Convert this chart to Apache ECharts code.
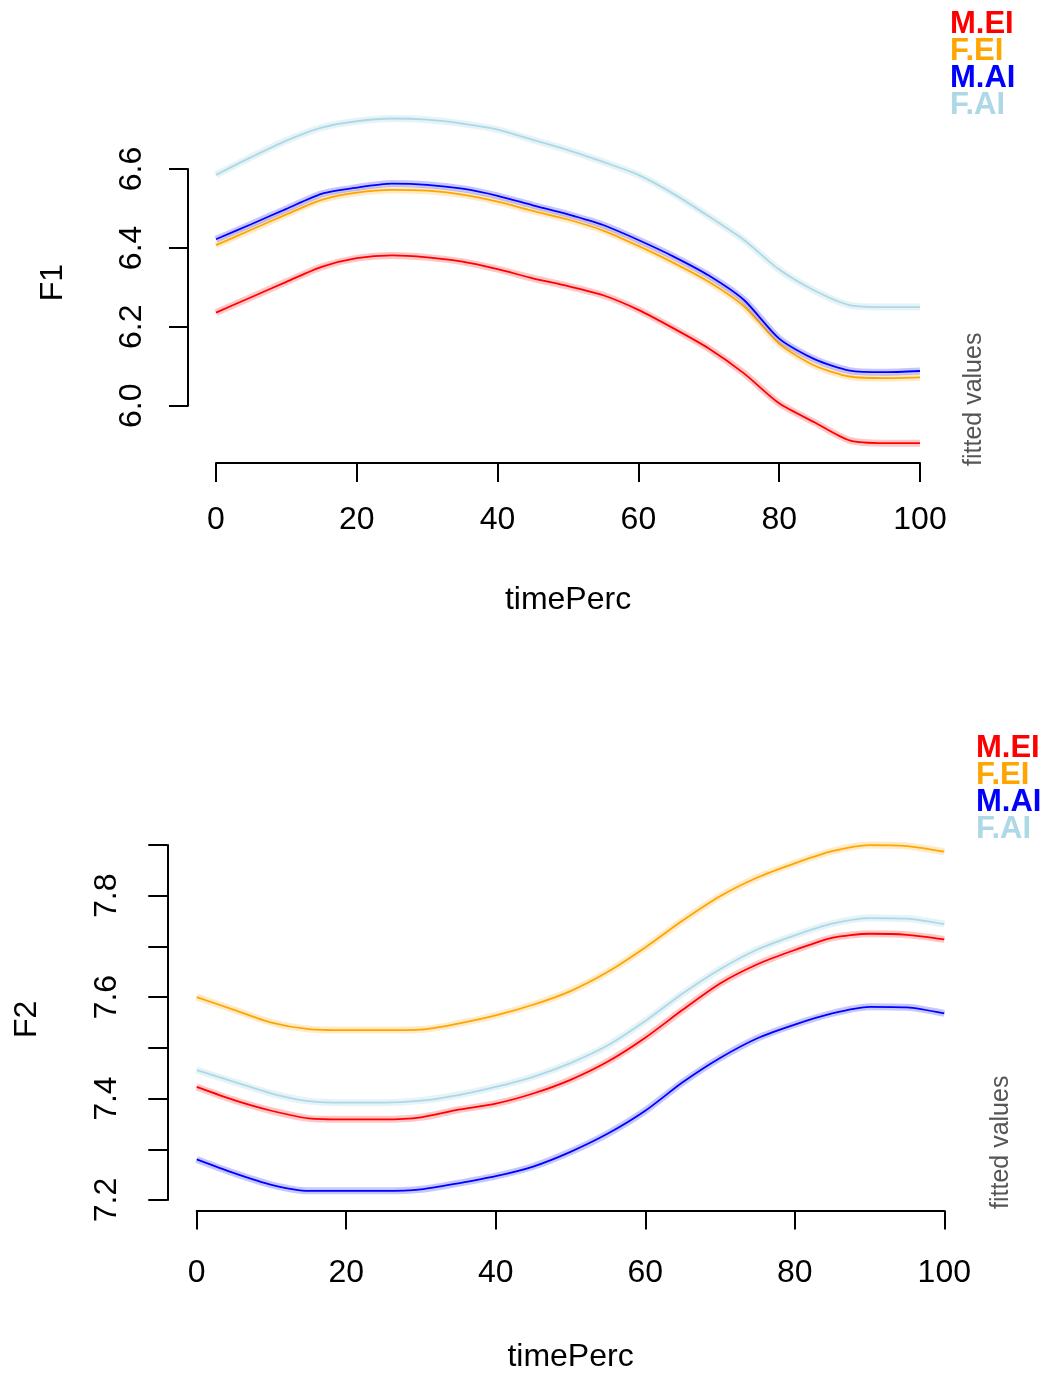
<!DOCTYPE html>
<html><head><meta charset="utf-8">
<script src="https://cdn.jsdelivr.net/npm/echarts@6/dist/echarts.min.js"></script>
<style>html,body{margin:0;padding:0;background:#fff;}#chart{width:1043px;height:1374px;}</style>
</head><body><div id="chart"></div>
<script>
// ---------- data ----------
const timePerc = [0,5,10,15,20,25,30,35,40,45,50,55,60,65,70,75,80,85,90,95,100];
const groups = ['M.EI','F.EI','M.AI','F.AI'];
const groupColors = ['#ff0000','#ffa500','#0000ff','#add8e6'];
const xTicks = [0,20,40,60,80,100];
const f1Ticks = [6.0,6.2,6.4,6.6];
const f2Ticks = [7.2,7.3,7.4,7.5,7.6,7.7,7.8,7.9];

// F1 fitted values
const f1_MEI = [6.236,6.275,6.314,6.352,6.374,6.381,6.376,6.365,6.346,6.323,6.303,6.280,6.243,6.196,6.145,6.082,6.006,5.958,5.912,5.905,5.905];
const f1_FEI = [6.407,6.446,6.485,6.522,6.540,6.547,6.545,6.535,6.517,6.494,6.472,6.444,6.405,6.362,6.314,6.252,6.157,6.102,6.074,6.070,6.072];
const f1_MAI = [6.422,6.460,6.499,6.537,6.553,6.563,6.560,6.550,6.532,6.508,6.485,6.458,6.420,6.378,6.330,6.268,6.170,6.118,6.089,6.085,6.088];
const f1_FAI = [6.585,6.630,6.672,6.705,6.721,6.728,6.725,6.715,6.700,6.674,6.648,6.618,6.585,6.537,6.480,6.420,6.345,6.292,6.255,6.250,6.250];

// F2 fitted values
const f2_MEI = [7.423,7.397,7.376,7.361,7.359,7.359,7.363,7.378,7.390,7.410,7.437,7.473,7.520,7.575,7.627,7.665,7.693,7.717,7.725,7.723,7.714];
const f2_FEI = [7.600,7.575,7.550,7.537,7.535,7.535,7.536,7.548,7.564,7.585,7.612,7.650,7.698,7.751,7.799,7.836,7.864,7.888,7.900,7.898,7.887];
const f2_MAI = [7.280,7.253,7.230,7.218,7.218,7.218,7.221,7.233,7.247,7.266,7.295,7.331,7.376,7.432,7.480,7.519,7.546,7.568,7.581,7.580,7.568];
const f2_FAI = [7.456,7.433,7.410,7.395,7.392,7.392,7.396,7.407,7.423,7.443,7.470,7.505,7.553,7.607,7.655,7.694,7.722,7.745,7.756,7.755,7.744];

const f1Series = [f1_MEI, f1_FEI, f1_MAI, f1_FAI];
const f2Series = [f2_MEI, f2_FEI, f2_MAI, f2_FAI];

// ---------- layout ----------
const FONT = '"Liberation Sans", Arial, sans-serif';
const panels = [
  { name:'F1', series:f1Series, ticks:f1Ticks, left:216, width:704,
    ppu:394.5, basePx:405.7, base:6.0, dataTop:102, dataBottom:463,
    yLabelMargin:40, yNameGap:147, xLabelMargin:41, xNameGap:121, axisOffset:28,
    labelEvery:1, legendTop:9, legendLeft:950, fittedX:974, fittedY:466 },
  { name:'F2', series:f2Series, ticks:f2Ticks, left:196.7, width:747.6,
    ppu:507.1, basePx:1200, base:7.2, dataTop:828, dataBottom:1210.5,
    yLabelMargin:44, yNameGap:154, xLabelMargin:47, xNameGap:131, axisOffset:29.4,
    labelEvery:2, legendTop:733, legendLeft:976, fittedX:1001, fittedY:1209 }
];

const grid = [], xAxis = [], yAxis = [], series = [], legend = [], graphic = [];
const axisLineStyle = { color:'#000', width:2 };

panels.forEach((p, pi) => {
  const tMin = p.ticks[0], tMax = p.ticks[p.ticks.length-1];
  const step = +(p.ticks[1]-p.ticks[0]).toFixed(3);
  const yMin = p.base - (p.dataBottom - p.basePx)/p.ppu;
  const yMax = p.base + (p.basePx - p.dataTop)/p.ppu;
  const axTop = p.basePx - (tMax - p.base)*p.ppu;
  const axH = (tMax - tMin)*p.ppu;

  // data grid
  const dg = grid.length;
  grid.push({ left:p.left, width:p.width, top:p.dataTop, height:p.dataBottom-p.dataTop, containLabel:false, outerBoundsMode:'none' });
  xAxis.push({ gridIndex:dg, type:'value', min:xTicks[0], max:xTicks[xTicks.length-1], interval:xTicks[1]-xTicks[0],
    axisLine:{ show:true, onZero:false, lineStyle:axisLineStyle }, axisTick:{ show:true, length:19, lineStyle:{ width:2, color:'#000' } },
    splitLine:{ show:false },
    axisLabel:{ show:true, margin:p.xLabelMargin, fontSize:32, color:'#000', fontFamily:FONT, showMinLabel:true, showMaxLabel:true },
    name:'timePerc', nameLocation:'middle', nameGap:p.xNameGap, nameTextStyle:{ fontSize:32, color:'#000', fontFamily:FONT } });
  yAxis.push({ gridIndex:dg, type:'value', min:yMin, max:yMax,
    axisLine:{ show:false, onZero:false }, axisTick:{ show:false }, axisLabel:{ show:false }, splitLine:{ show:false },
    name:p.name, nameLocation:'middle', nameGap:p.yNameGap, nameRotate:90,
    nameTextStyle:{ fontSize:32, color:'#000', fontFamily:FONT } });

  // axis-only grid (y-axis spans the tick range only)
  const ag = grid.length;
  grid.push({ left:p.left, width:p.width, top:axTop, height:axH, containLabel:false, outerBoundsMode:'none' });
  xAxis.push({ gridIndex:ag, type:'value', min:0, max:100, show:false, axisLine:{ onZero:false } });
  yAxis.push({ gridIndex:ag, type:'value', min:tMin, max:tMax, interval:step, offset:p.axisOffset,
    axisLine:{ show:true, onZero:false, lineStyle:axisLineStyle }, axisTick:{ show:true, length:19, lineStyle:{ width:2, color:'#000' } },
    splitLine:{ show:false },
    axisLabel:{ show:true, rotate:90, margin:p.yLabelMargin, fontSize:32, color:'#000', fontFamily:FONT,
      showMinLabel:true, showMaxLabel:true,
      formatter:(v)=>{ const k = Math.round((v - tMin)/step); return (k % p.labelEvery === 0) ? v.toFixed(1) : ''; } } });

  // series: confidence-band look (wide translucent line) + fitted line
  p.series.forEach((vals, gi) => {
    const data = timePerc.map((x, i) => [x, vals[i]]);
    series.push({ name:groups[gi] + ' band', type:'line', xAxisIndex:dg, yAxisIndex:dg, data,
      symbol:'none', smooth:0.25, silent:true, animation:false,
      lineStyle:{ width:7, color:groupColors[gi], opacity: gi===3 ? 0.3 : 0.22 } });
    series.push({ name:groups[gi], type:'line', xAxisIndex:dg, yAxisIndex:dg, data,
      symbol:'none', smooth:0.25, animation:false, color:groupColors[gi],
      lineStyle:{ width:1.8, color:groupColors[gi] } });
  });

  legend.push({ top:p.legendTop, left:p.legendLeft - 5, orient:'vertical', padding:0, itemGap:-4,
    itemWidth:0, itemHeight:26, icon:'none', selectedMode:false,
    textStyle:{ fontSize:31, fontWeight:'bold', fontFamily:FONT, lineHeight:26 },
    data: groups.map((g, gi) => ({ name:g, icon:'none', textStyle:{ color:groupColors[gi] } })) });

  graphic.push({ type:'text', x:p.fittedX, y:p.fittedY, rotation:Math.PI/2,
    style:{ text:'fitted values', fontSize:25, fontFamily:FONT, fill:'#555', align:'left', verticalAlign:'middle' } });
});

const chart = echarts.init(document.getElementById('chart'), null, { renderer:'canvas' });
chart.setOption({ backgroundColor:'#fff', animation:false, grid, xAxis, yAxis, series, legend, graphic });
</script>
</body></html>
